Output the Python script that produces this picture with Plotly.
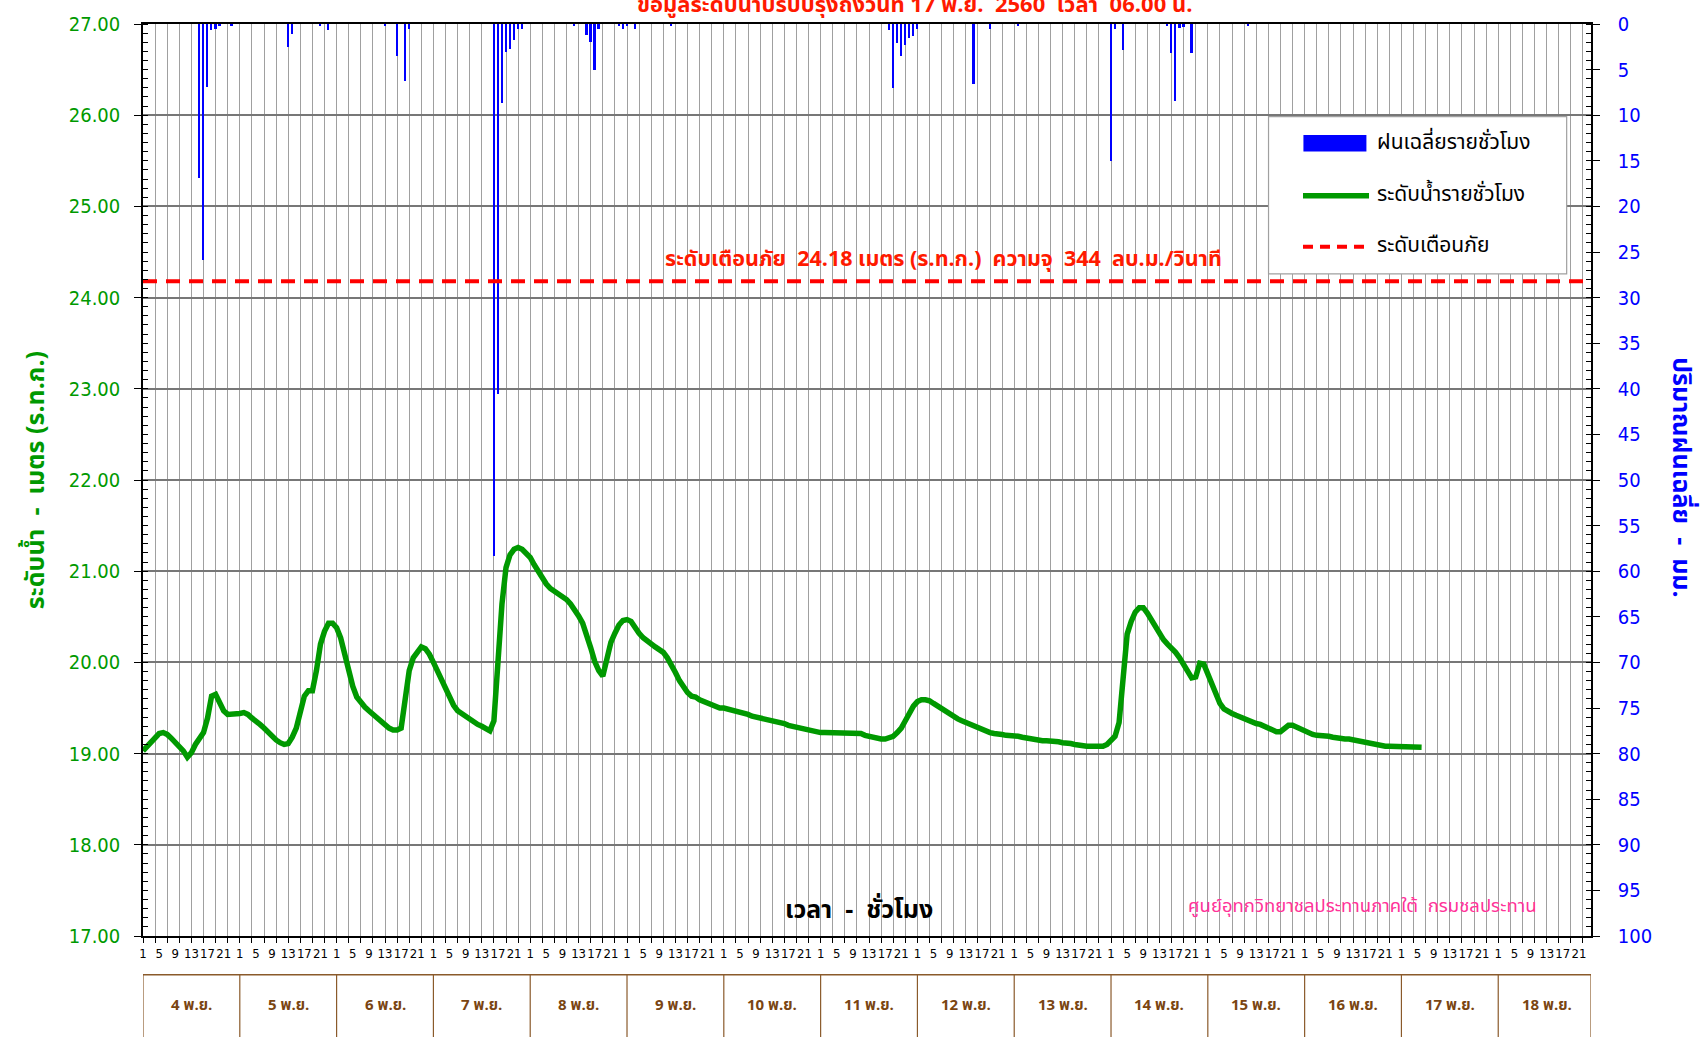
import plotly.graph_objects as go

# ---------------- data ----------------
day_labels = ["4 พ.ย.", "5 พ.ย.", "6 พ.ย.", "7 พ.ย.", "8 พ.ย.", "9 พ.ย.", "10 พ.ย.",
              "11 พ.ย.", "12 พ.ย.", "13 พ.ย.", "14 พ.ย.", "15 พ.ย.", "16 พ.ย.",
              "17 พ.ย.", "18 พ.ย."]
hour_labels = ["1", "5", "9", "13", "17", "21"]

# hourly water level (m MSL), hour 1..24 of each day
level_nov04 = [19.03, 19.08, 19.13, 19.18, 19.22, 19.23, 19.21, 19.17, 19.12, 19.09, 19.03, 18.96,
               19.01, 19.10, 19.16, 19.23, 19.39, 19.63, 19.65, 19.56, 19.47, 19.43, 19.43, 19.43]
level_nov05 = [19.44, 19.45, 19.43, 19.39, 19.36, 19.32, 19.28, 19.23, 19.19, 19.15, 19.12, 19.10,
               19.11, 19.18, 19.28, 19.45, 19.63, 19.69, 19.69, 19.91, 20.20, 20.34, 20.43, 20.43]
level_nov06 = [20.38, 20.27, 20.09, 19.91, 19.74, 19.62, 19.56, 19.51, 19.47, 19.43, 19.39, 19.34,
               19.30, 19.28, 19.26, 19.26, 19.28, 19.58, 19.91, 20.05, 20.12, 20.17, 20.15, 20.09]
level_nov07 = [20.00, 19.91, 19.80, 19.70, 19.61, 19.53, 19.47, 19.44, 19.40, 19.38, 19.35, 19.32,
               19.30, 19.27, 19.25, 19.36, 19.98, 20.64, 21.04, 21.18, 21.24, 21.26, 21.24, 21.20]
level_nov08 = [21.15, 21.07, 20.99, 20.92, 20.86, 20.81, 20.78, 20.75, 20.72, 20.69, 20.64, 20.58,
               20.51, 20.43, 20.31, 20.16, 20.01, 19.91, 19.85, 20.01, 20.22, 20.32, 20.41, 20.46]
level_nov09 = [20.47, 20.45, 20.38, 20.32, 20.27, 20.23, 20.20, 20.17, 20.14, 20.11, 20.05, 19.98,
               19.89, 19.80, 19.72, 19.67, 19.63, 19.62, 19.59, 19.57, 19.55, 19.53, 19.52, 19.50]
level_nov10 = [19.50, 19.49, 19.48, 19.47, 19.46, 19.44, 19.43, 19.41, 19.40, 19.39, 19.38, 19.38,
               19.36, 19.35, 19.35, 19.33, 19.31, 19.30, 19.28, 19.27, 19.26, 19.25, 19.24, 19.24]
level_nov11 = [19.23, 19.23, 19.23, 19.23, 19.23, 19.23, 19.23, 19.23, 19.23, 19.23, 19.22, 19.20,
               19.19, 19.18, 19.16, 19.16, 19.16, 19.17, 19.19, 19.23, 19.28, 19.36, 19.45, 19.52]
level_nov12 = [19.57, 19.59, 19.59, 19.58, 19.55, 19.52, 19.49, 19.47, 19.44, 19.41, 19.38, 19.36,
               19.34, 19.32, 19.30, 19.28, 19.26, 19.24, 19.23, 19.22, 19.22, 19.21, 19.20, 19.20]
level_nov13 = [19.19, 19.19, 19.18, 19.17, 19.16, 19.15, 19.15, 19.14, 19.14, 19.14, 19.13, 19.13,
               19.12, 19.12, 19.11, 19.10, 19.09, 19.09, 19.08, 19.08, 19.08, 19.08, 19.08, 19.10]
level_nov14 = [19.15, 19.19, 19.34, 19.91, 20.31, 20.45, 20.55, 20.60, 20.60, 20.54, 20.46, 20.38,
               20.31, 20.25, 20.20, 20.16, 20.11, 20.05, 19.98, 19.89, 19.83, 19.84, 19.99, 19.98]
level_nov15 = [19.87, 19.74, 19.63, 19.55, 19.49, 19.46, 19.44, 19.42, 19.40, 19.38, 19.36, 19.34,
               19.33, 19.32, 19.30, 19.29, 19.27, 19.24, 19.24, 19.27, 19.31, 19.31, 19.29, 19.26]
level_nov16 = [19.24, 19.22, 19.21, 19.20, 19.20, 19.19, 19.19, 19.18, 19.17, 19.17, 19.16, 19.16,
               19.15, 19.14, 19.13, 19.12, 19.11, 19.10, 19.09, 19.08, 19.08, 19.08, 19.08, 19.08]
level_nov17 = [19.08, 19.08, 19.08, 19.08, 19.08, 19.07]

# hourly average rainfall (mm): hour position since 4 Nov 01:00, and amount
rain_hour = [14, 15, 16, 17, 18, 19, 22, 36, 37, 44, 46, 60, 63, 65, 66,
             87, 88, 89, 90, 91, 92, 93, 94, 107, 110, 111, 112, 113, 118, 119, 120, 122, 131,
             185, 186, 187, 188, 189, 190, 191, 192, 206, 210, 217,
             240, 241, 243, 254, 255, 256, 257, 258, 260, 274]
rain_mm = [16.9, 25.9, 6.9, 0.7, 0.5, 0.2, 0.2, 2.5, 1.1, 0.2, 0.7, 0.2, 3.5, 6.3, 0.6,
           58.3, 40.6, 8.7, 3.1, 2.7, 1.7, 0.5, 0.5, 0.2, 1.2, 2.0, 5.0, 0.6, 0.2, 0.5, 0.2, 0.5, 0.2,
           0.7, 7.0, 2.1, 3.5, 2.3, 1.5, 1.3, 0.6, 6.6, 0.5, 0.2,
           15.0, 0.6, 2.8, 0.2, 3.2, 8.4, 0.4, 0.3, 3.2, 0.2]

warning_level = 24.18

# ---------------- figure ----------------
water = (level_nov04 + level_nov05 + level_nov06 + level_nov07 + level_nov08 + level_nov09 +
         level_nov10 + level_nov11 + level_nov12 + level_nov13 + level_nov14 + level_nov15 +
         level_nov16 + level_nov17)
hours = list(range(len(water)))
n_hours = len(day_labels) * 24
x_max = n_hours - 1

THAI = "Tahoma, 'Noto Sans Thai', 'Leelawadee UI', 'Garuda', 'Loma', 'DejaVu Sans', sans-serif"
NUM = "'DejaVu Sans Condensed', Tahoma, 'DejaVu Sans', sans-serif"
GREEN = "#009900"
RED = "#ff1a00"
BLUE = "#0000ff"
BROWN = "#8a5a2b"

fig = go.Figure()
fig.add_trace(go.Bar(x=rain_hour, y=rain_mm, yaxis="y2", width=0.45,
                     marker=dict(color=BLUE, line=dict(width=0)),
                     name="ฝนเฉลี่ยรายชั่วโมง", showlegend=False))
fig.add_trace(go.Scatter(x=hours, y=water, mode="lines",
                         line=dict(color=GREEN, width=5.5),
                         name="ระดับน้ำรายชั่วโมง", showlegend=False))
fig.add_trace(go.Scatter(x=[0, x_max], y=[warning_level, warning_level], xaxis="x2",
                         mode="lines", line=dict(color="#ff0000", width=4, dash="14px,9px"),
                         name="ระดับเตือนภัย", showlegend=False))

label_vals = [d * 24 + (int(h) - 1) for d in range(len(day_labels)) for h in hour_labels]
label_text = [h for d in range(len(day_labels)) for h in hour_labels]

fig.update_layout(
    width=1706, height=1037, autosize=False,
    margin=dict(l=143, r=115, t=20, b=101, pad=0),
    paper_bgcolor="white", plot_bgcolor="white",
    bargap=0,
    xaxis=dict(range=[0, x_max], tickmode="linear", tick0=0, dtick=3,
               showticklabels=False, showgrid=True, gridcolor="#a0a0a0", gridwidth=1.3,
               ticks="outside", ticklen=5, tickcolor="black", tickwidth=1,
               showline=True, linecolor="black", linewidth=1.5, mirror=True,
               zeroline=False),
    xaxis2=dict(range=[0, x_max], overlaying="x", anchor="y", side="bottom",
                tickmode="array", tickvals=label_vals, ticktext=label_text, tickangle=0,
                showgrid=False, ticks="", showline=False, zeroline=False,
                tickfont=dict(family=NUM, size=13, color="black"), ticklabelstandoff=8),
    yaxis=dict(range=[17, 27], tickmode="linear", tick0=17, dtick=1, tickformat=".2f",
               tickfont=dict(family=NUM, size=20, color=GREEN),
               showgrid=True, gridcolor="#777777", gridwidth=1.5,
               ticks="outside", ticklen=7, tickcolor="black",
               minor=dict(dtick=0.1, ticks="inside", ticklen=5, tickcolor="black", showgrid=False),
               showline=True, linecolor="black", linewidth=1.5, zeroline=False,
               ticklabelstandoff=10),
    yaxis2=dict(range=[100, 0], overlaying="y", side="right", anchor="x",
                tickmode="linear", tick0=0, dtick=5,
                tickfont=dict(family=NUM, size=20, color=BLUE),
                showgrid=False, ticks="outside", ticklen=7, tickcolor="black",
                minor=dict(dtick=1, ticks="inside", ticklen=5, tickcolor="black", showgrid=False),
                showline=True, linecolor="black", linewidth=1.5, zeroline=False,
                ticklabelstandoff=14),
)

annotations = []
shapes = []

# axis titles
annotations.append(dict(text="<b>ระดับน้ำ  -  เมตร (ร.ท.ก.)</b>", xref="paper", yref="paper",
                        x=-0.0738, y=0.5, xanchor="center", yanchor="middle", textangle=-90,
                        showarrow=False, font=dict(family=THAI, size=25, color=GREEN)))
annotations.append(dict(text="<b>ปริมาณฝนเฉลี่ย  -  มม.</b>", xref="paper", yref="paper",
                        x=1.0622, y=0.503, xanchor="center", yanchor="middle", textangle=90,
                        showarrow=False, font=dict(family=THAI, size=25, color=BLUE)))
# top title (cut off at top edge as in the source image)
annotations.append(dict(text="<b>ข้อมูลระดับน้ำปรับปรุงถึงวันที่ 17 พ.ย.  2560  เวลา  06.00 น.</b>",
                        xref="paper", yref="paper", x=0.5325, y=1.02, xanchor="center",
                        yanchor="middle", showarrow=False,
                        font=dict(family=THAI, size=22, color=RED)))
# warning text
annotations.append(dict(text="<b>ระดับเตือนภัย  24.18 เมตร (ร.ท.ก.)  ความจุ  344  ลบ.ม./วินาที</b>",
                        xref="paper", yref="y", x=0.5525, y=warning_level, xanchor="center",
                        yanchor="bottom", yshift=3, showarrow=False,
                        font=dict(family=THAI, size=21.5, color=RED)))
# x axis title inside plot
annotations.append(dict(text="<b>เวลา  -  ชั่วโมง</b>", xref="paper", yref="paper",
                        x=0.4948, y=0.0288, xanchor="center", yanchor="middle", showarrow=False,
                        font=dict(family=THAI, size=25, color="black")))
# credit
annotations.append(dict(text="ศูนย์อุทกวิทยาชลประทานภาคใต้  กรมชลประทาน", xref="paper", yref="paper",
                        x=0.8425, y=0.0328, xanchor="center", yanchor="middle", showarrow=False,
                        font=dict(family=THAI, size=18.5, color="#ff3399")))

# day boxes under the axis
box_top = -0.0426
box_bot = -0.12
shapes.append(dict(type="line", xref="x", yref="paper", x0=0, x1=x_max, y0=box_top, y1=box_top,
                   line=dict(color=BROWN, width=1.5)))
for d, lab in enumerate(day_labels):
    shapes.append(dict(type="line", xref="x", yref="paper", x0=d * 24, x1=d * 24,
                       y0=box_top, y1=box_bot, line=dict(color=BROWN, width=1.2)))
    annotations.append(dict(text="<b>" + lab + "</b>", xref="x", yref="paper", x=d * 24 + 12,
                            y=-0.0764, xanchor="center", yanchor="middle", showarrow=False,
                            font=dict(family=THAI, size=15, color="#7a4512")))
shapes.append(dict(type="line", xref="x", yref="paper", x0=x_max, x1=x_max,
                   y0=box_top, y1=box_bot, line=dict(color=BROWN, width=1.2)))

# legend box (drawn)
shapes.append(dict(type="rect", xref="paper", yref="paper", x0=0.7773, x1=0.9832, y0=0.726, y1=0.8985,
                   line=dict(color="#a0a0a0", width=1.2), fillcolor="white"))
shapes.append(dict(type="rect", xref="paper", yref="paper", x0=0.8014, x1=0.8449, y0=0.8603, y1=0.8782,
                   line=dict(width=0), fillcolor=BLUE))
shapes.append(dict(type="line", xref="paper", yref="paper", x0=0.8011, x1=0.8467, y0=0.8116, y1=0.8116,
                   line=dict(color=GREEN, width=5.5)))
shapes.append(dict(type="line", xref="paper", yref="paper", x0=0.8011, x1=0.8449, y0=0.7558, y1=0.7558,
                   line=dict(color="#ff0000", width=4, dash="10px,7px")))
for txt, yy in [("ฝนเฉลี่ยรายชั่วโมง", 0.8701), ("ระดับน้ำรายชั่วโมง", 0.8128), ("ระดับเตือนภัย", 0.757)]:
    annotations.append(dict(text=txt, xref="paper", yref="paper", x=0.8508, y=yy, xanchor="left",
                            yanchor="middle", showarrow=False,
                            font=dict(family=THAI, size=21, color="black")))

fig.update_layout(annotations=annotations, shapes=shapes)

fig.write_html("out.html", config={"displayModeBar": False},
               post_script="document.body.style.margin='0';document.body.style.overflow='hidden';")
